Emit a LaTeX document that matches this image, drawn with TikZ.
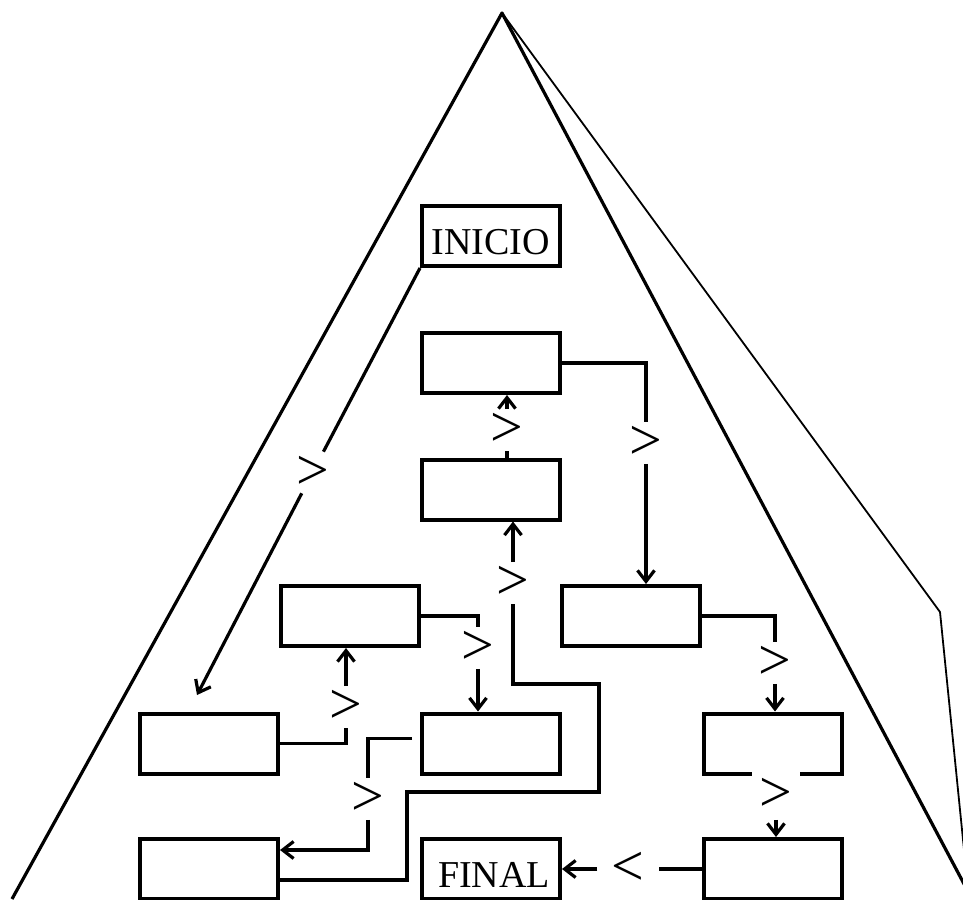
\documentclass[tikz,border=0pt]{standalone}
\usepackage{fontspec}
\setmainfont{Liberation Serif}
\usetikzlibrary{arrows.meta}

\tikzset{
  caja/.style={draw, line width=4pt, minimum width=138pt, minimum height=60pt,
    inner sep=0pt, text height=37pt, text depth=0pt, font=\fontsize{38}{40}\selectfont},
  signo/.style={inner sep=4pt, font=\fontsize{58}{58}\selectfont},
  linea/.style={line width=3.2pt},
  flecha/.style={-{Straight Barb[length=11pt,width=17pt]}},
}

\begin{document}
\begin{tikzpicture}[x=1pt, y=-1pt]
  \useasboundingbox (0,0) rectangle (963,899);
  \clip (0,0) rectangle (963,899);
  \draw[line width=3.2pt, line join=round] (12,899) -- (502,13) -- (972,899);
  \draw[line width=1.8pt, line join=round] (502,13) -- (940,612) -- (969,899);

  \node[caja] (inicio) at (491,236) {INICIO};
  \node[caja] (b2) at (491,363) {};
  \node[caja] (b3) at (491,489.5) {};
  \node[caja] (b4l) at (349.5,616) {};
  \node[caja] (b4r) at (631,616) {};
  \node[caja] (b5l) at (209,743.5) {};
  \node[caja] (b5m) at (491,743.5) {};
  \node[caja] (b5r) at (772.5,743.5) {};
  \node[caja] (b6l) at (209,869) {};
  \node[caja] (final) at (491,869) {\hspace{6pt}FINAL};
  \node[caja] (b6r) at (772.5,869) {};

  \node[signo] (s1) at (312.5,472.5) {>};
  \node[signo] (s2) at (507,430) {>};
  \node[signo] (s3) at (646,443) {>};
  \node[signo] (s4) at (775,663) {>};
  \node[signo, fill=white, inner sep=8pt] (s5) at (776,795) {>};
  \node[signo, inner xsep=14pt] (s6) at (628,869) {<};
  \node[signo] (s7) at (368,799) {>};
  \node[signo] (s8) at (346,707) {>};
  \node[signo] (s9) at (478,648) {>};
  \node[signo] (s10) at (513,583) {>};

  \coordinate (c1) at (197,695);
  \coordinate (k1) at (407,792);
  \coordinate (k2) at (599,684);

  \draw[linea] (inicio.south west) -- (s1);
  \draw[linea, flecha] (s1) -- (c1);
  \draw[linea] (b3.north -| s2) -- (s2);
  \draw[linea, flecha] (s2) -- (b2.south -| s2);
  \draw[linea] (b2.east) -| (s3);
  \draw[linea, flecha] (s3) -- (b4r.north -| s3);
  \draw[linea] (b4r.east) -| (s4);
  \draw[linea, flecha] (s4) -- (b5r.north -| s4);
  \draw[linea, flecha] (s5) -- (b6r.north -| s5);
  \draw[linea] (b6r.west) -- (s6);
  \draw[linea, flecha] (s6) -- (final.east);
  \draw[linea] ([shift={(-8pt,5pt)}]b5m.west) -| (s7);
  \draw[linea, flecha] (s7) |- ([yshift=19pt]b6l.east);
  \draw[linea] (b5l.east) -| (s8);
  \draw[linea, flecha] (s8) -- (b4l.south -| s8);
  \draw[linea] (b4l.east) -| (s9);
  \draw[linea, flecha] (s9) -- (b5m.north -| s9);
  \draw[linea] ([yshift=-11pt]b6l.east) -| (k1) -| (k2) -| (s10);
  \draw[linea, flecha] (s10) -- (b3.south -| s10);
\end{tikzpicture}
\end{document}
